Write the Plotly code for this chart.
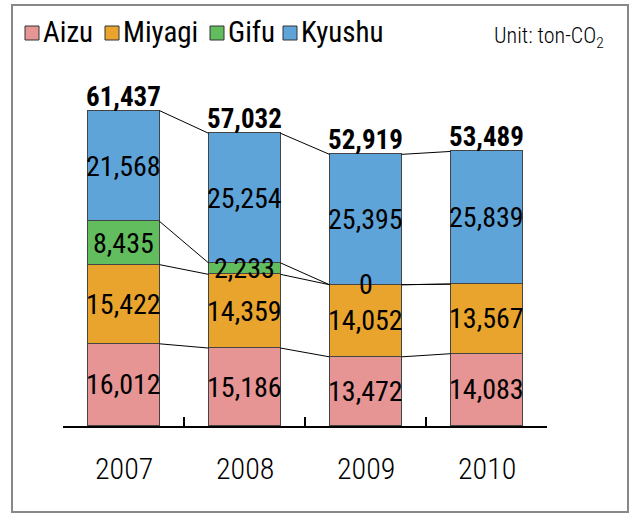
import plotly.graph_objects as go

years = ["2007", "2008", "2009", "2010"]
series_names = ["Aizu", "Miyagi", "Gifu", "Kyushu"]
aizu = [16012, 15186, 13472, 14083]
miyagi = [15422, 14359, 14052, 13567]
gifu = [8435, 2233, 0, None]
kyushu = [21568, 25254, 25395, 25839]
totals = [61437, 57032, 52919, 53489]
colors = ["#E69494", "#E9A42E", "#62BD5E", "#5EA4D9"]
unit_text = "Unit: ton-CO<sub>2</sub>"

FONT = "Roboto Condensed, Roboto, sans-serif"
series = [aizu, miyagi, gifu, kyushu]
x = list(range(len(years)))
BAR_W = 0.595

fig = go.Figure()
for name, vals, col in zip(series_names, series, colors):
    fig.add_trace(go.Bar(
        x=x, y=vals, name=name, width=BAR_W,
        marker=dict(color=col, line=dict(color="#444444", width=1)),
        showlegend=False, hoverinfo="skip",
    ))

# cumulative boundaries
cums = []
for i in x:
    c = [0]
    for s in series:
        c.append(c[-1] + (s[i] or 0))
    cums.append(c)

shapes = []
# connecting lines between bars
for i in range(len(years) - 1):
    for k in range(1, len(series) + 1):
        shapes.append(dict(type="line", xref="x", yref="y",
                           x0=i + BAR_W / 2, y0=cums[i][k],
                           x1=i + 1 - BAR_W / 2, y1=cums[i + 1][k],
                           line=dict(color="black", width=1)))

annotations = []
# segment labels
for i in x:
    for k, s in enumerate(series):
        if s[i] is None:
            continue
        mid = (cums[i][k] + cums[i][k + 1]) / 2
        annotations.append(dict(x=i, y=mid, xref="x", yref="y",
                                text=f"{s[i]:,}", showarrow=False,
                                yanchor="middle", xanchor="center",
                                font=dict(family=FONT, size=28, color="black")))
    annotations.append(dict(x=i, y=totals[i], xref="x", yref="y",
                            text=f"<b>{totals[i]:,}</b>", showarrow=False,
                            yanchor="middle", xanchor="center", yshift=14,
                            font=dict(family=FONT, size=27, color="black")))
    annotations.append(dict(x=i, y=-0.116, xref="x", yref="paper",
                            text=years[i], showarrow=False,
                            yanchor="middle", xanchor="center",
                            font=dict(family=FONT, size=30, color="black", weight=300)))

# legend (manual)
PL, PW, PB, PH = 63, 484, 426, 366
def px(xp):
    return (xp - PL) / PW
def py(yp):
    return (PB - yp) / PH

leg_x = [25, 105, 210, 283]
for name, col, lx in zip(series_names, colors, leg_x):
    shapes.append(dict(type="rect", xref="paper", yref="paper",
                       x0=px(lx), x1=px(lx + 14), y0=py(40), y1=py(26),
                       fillcolor=col, line=dict(color="#333333", width=1)))
    annotations.append(dict(x=px(lx + 16), y=py(32), xref="paper", yref="paper",
                            text=name, showarrow=False, xanchor="left", yanchor="middle",
                            font=dict(family=FONT, size=29, color="black")))

annotations.append(dict(x=px(606), y=py(38), xref="paper", yref="paper",
                        text=unit_text, showarrow=False, xanchor="right", yanchor="middle",
                        font=dict(family=FONT, size=22, color="black", weight=300)))

# outer frame
shapes.append(dict(type="rect", xref="paper", yref="paper",
                   x0=px(12), x1=px(628), y0=py(512), y1=py(5),
                   line=dict(color="#888888", width=2), layer="below"))

fig.update_layout(
    width=630, height=514,
    margin=dict(l=PL, r=630 - PL - PW, t=PB - PH, b=514 - PB),
    barmode="stack", bargap=0,
    plot_bgcolor="white", paper_bgcolor="white",
    shapes=shapes, annotations=annotations,
    xaxis=dict(range=[-0.5, 3.5], showgrid=False, zeroline=False,
               showline=True, linecolor="black", linewidth=1.5,
               tickvals=[-0.5, 0.5, 1.5, 2.5, 3.5], ticks="inside",
               ticklen=9, tickwidth=1.5, tickcolor="black",
               showticklabels=False),
    yaxis=dict(range=[0, 366 / 0.005133], visible=False),
)

fig.write_html("out.html", config={"displayModeBar": False},
               post_script="document.body.style.margin='0';document.body.style.padding='0';")
